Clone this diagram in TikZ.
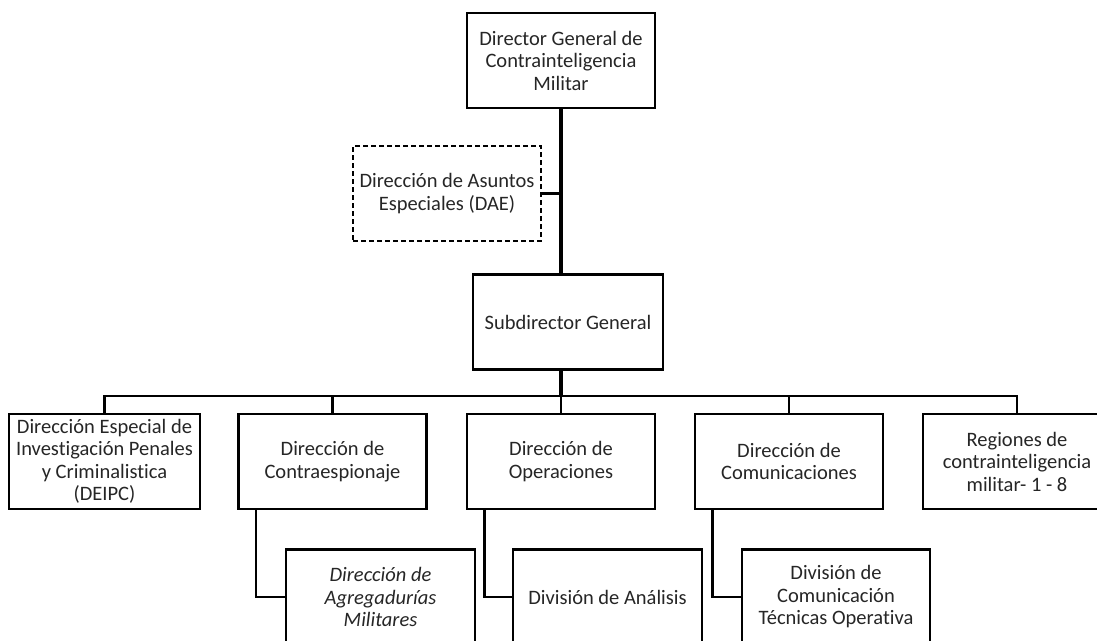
\documentclass[tikz,border=0pt]{standalone}
\usepackage{fontspec}
\setmainfont[Ligatures=NoCommon]{Carlito}
\usetikzlibrary{positioning}

\tikzset{
  unit/.style={draw, line width=2.3pt, minimum width=188pt, minimum height=95pt,
    inner sep=2pt, align=center, text=black!85,
    font=\fontsize{20.5}{22.5}\selectfont},
  unitit/.style={unit, font=\fontsize{20.5}{22.5}\selectfont\itshape},
  unitdash/.style={unit, dashed, dash pattern=on 5pt off 3pt},
  trunk/.style={line width=3.2pt},
  link/.style={line width=2.3pt}
}

\begin{document}
\begin{tikzpicture}[x=1pt, y=-1pt]
        \useasboundingbox[fill=white] (0,0) rectangle (1097,640);
        % top of the chart
        \node[unit] (dir) at (561,60.5) {Director General de\\Contrainteligencia\\Militar};
        \node[unitdash] (dae) at (447,193.5) {Dirección de Asuntos\\Especiales (DAE)};
        \node[unit, minimum width=190pt] (sub) at (568,322) {Subdirector General};
        % direcciones
        \node[unit, minimum width=191pt] (b1) at (104.5,461.5) {Dirección Especial de\\Investigación Penales\\y Criminalistica\\(DEIPC)};
        \node[unit] (b2) at (332.5,461.5) {Dirección de\\Contraespionaje};
        \node[unit] (b3) at (561,461.5) {Dirección de\\Operaciones};
        \node[unit] (b4) at (789,461.5) {Dirección de\\Comunicaciones};
        \node[unit] (b5) at (1017,461.5) {Regiones de\\contrainteligencia\\militar- 1 - 8};
        % divisiones
        \node[unitit, minimum width=189pt] (s1) at (380.5,597) {Dirección de\\Agregadurías\\Militares};
        \node[unit, minimum width=189pt] (s2) at (607.5,597) {División de Análisis};
        \node[unit] (s3) at (836,597) {División de\\Comunicación\\Técnicas Operativa};
        \coordinate (bus) at (561,396);
        \draw[trunk] (dir.south) -- (dir.south |- sub.north);
        \draw[link] (dae.east) -- (dae.east -| dir.south);
        \draw[trunk] (dir.south |- sub.south) -- (bus);
        \draw[link] (b1.north) |- (bus) -| (b5.north);
        \foreach \b in {b2,b3,b4}
          \draw[link] (\b.north) -- (\b.north |- bus);
        \foreach \a/\c in {b2/s1,b3/s2,b4/s3}
          \draw[link] ([xshift=18.5pt]\a.south west) |- (\c.west);
\end{tikzpicture}
\end{document}
